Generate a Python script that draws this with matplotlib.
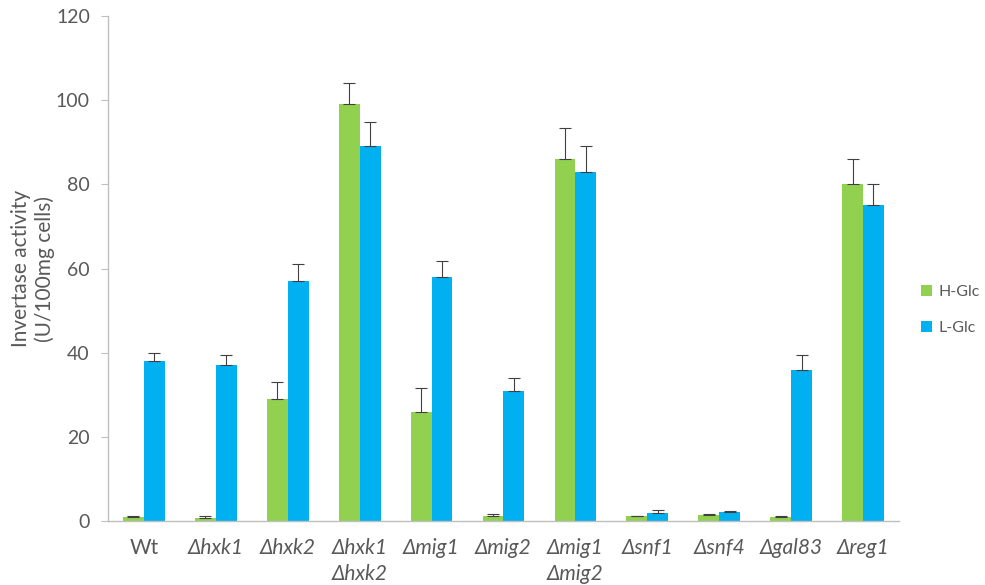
import matplotlib.pyplot as plt
import numpy as np

# Strains (x categories)
strains = ["Wt", "Δhxk1", "Δhxk2", "Δhxk1\nΔhxk2", "Δmig1", "Δmig2",
           "Δmig1\nΔmig2", "Δsnf1", "Δsnf4", "Δgal83", "Δreg1"]

# Invertase activity (U/100mg cells)
h_glc = [1.0, 0.8, 29, 99, 26, 1.2, 86, 1.1, 1.4, 1.0, 80]
h_err = [0.3, 0.4, 4.0, 5.0, 5.7, 0.4, 7.4, 0.1, 0.2, 0.3, 6.0]
l_glc = [38, 37, 57, 89, 58, 31, 83, 2.0, 2.2, 36, 75]
l_err = [2.0, 2.4, 4.0, 5.8, 3.8, 3.0, 6.0, 0.5, 0.2, 3.5, 5.0]

green = "#92D050"
blue = "#00B0F0"
grey_txt = "#595959"
grey_ax = "#BFBFBF"

plt.rcParams['font.family'] = ['Lato', 'DejaVu Sans']

fig = plt.figure(figsize=(9.85, 5.85), dpi=100)
ax = fig.add_axes([0.1096, 0.1094, 0.8031, 0.8632])

x = np.arange(len(strains))
w = 0.29
ekw = dict(ecolor="#404040", elinewidth=0.8, capsize=4, capthick=0.8)
ax.bar(x - w / 2, h_glc, w, color=green, label="H-Glc",
       yerr=[np.zeros(len(h_err)), h_err], error_kw=ekw)
ax.bar(x + w / 2, l_glc, w, color=blue, label="L-Glc",
       yerr=[np.zeros(len(l_err)), l_err], error_kw=ekw)

ax.set_xlim(-0.5, len(strains) - 0.5)
ax.set_ylim(0, 120)
ax.set_yticks(np.arange(0, 121, 20))
ax.set_xticks(x)
ax.set_xticklabels(strains, fontsize=15, color=grey_txt, linespacing=1.4)
for lbl in ax.get_xticklabels()[1:]:
    lbl.set_style("italic")
ax.tick_params(axis="x", length=0, pad=12)
ax.tick_params(axis="y", length=5, color=grey_ax, labelsize=14,
               labelcolor=grey_txt, pad=8)

for s in ["top", "right"]:
    ax.spines[s].set_visible(False)
for s in ["left", "bottom"]:
    ax.spines[s].set_color(grey_ax)
    ax.spines[s].set_linewidth(1)

ax.set_ylabel("Invertase activity\n(U/100mg cells)", fontsize=15,
              color=grey_txt, va="center", linespacing=1.2)
ax.yaxis.set_label_coords(-0.095, 0.5)

leg = ax.legend(loc="center left", bbox_to_anchor=(1.01, 0.418), frameon=False,
                fontsize=11.5, handlelength=0.7, handleheight=0.7,
                handletextpad=0.4, labelspacing=1.4)
for t in leg.get_texts():
    t.set_color(grey_txt)

fig.savefig("out.png", dpi=100)
plt.close(fig)
